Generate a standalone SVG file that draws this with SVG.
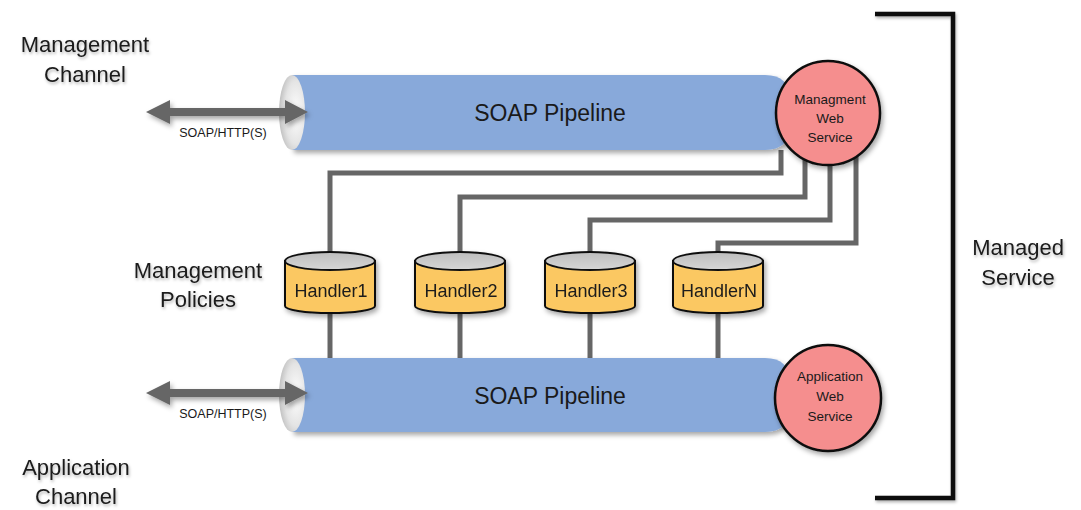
<svg xmlns="http://www.w3.org/2000/svg" width="1081" height="510" viewBox="0 0 1081 510">
<defs>
<filter id="sh" x="-20%" y="-20%" width="140%" height="150%">
<feDropShadow dx="2" dy="3" stdDeviation="2.5" flood-color="#000" flood-opacity="0.35"/>
</filter>
<filter id="tsh" x="-10%" y="-20%" width="120%" height="160%">
<feDropShadow dx="1" dy="2" stdDeviation="1.5" flood-color="#000" flood-opacity="0.3"/>
</filter>
<radialGradient id="endcap" cx="0.65" cy="0.5" r="0.7">
<stop offset="0" stop-color="#ffffff"/>
<stop offset="0.6" stop-color="#e4e4e4"/>
<stop offset="1" stop-color="#b8b8b8"/>
</radialGradient>
<linearGradient id="cylTop" x1="0" y1="0" x2="0" y2="1">
<stop offset="0" stop-color="#bdbdbd"/>
<stop offset="1" stop-color="#d6d6d6"/>
</linearGradient>
</defs>
<style>
text{font-family:"Liberation Sans",Arial,sans-serif;fill:#1a1a1a;}
.lbl{font-size:22px;text-anchor:middle;filter:url(#tsh);}
.pipe{fill:#88a9da;filter:url(#sh);}
.cap{fill:url(#endcap);}
.ptxt{font-size:23px;text-anchor:middle;}
.ws{fill:#f58e8e;stroke:#111;stroke-width:2.5;filter:url(#sh);}
.wtxt{font-size:13.5px;text-anchor:middle;}
.cyl{fill:#fbc862;stroke:#111;stroke-width:2;}
.cyltop{fill:url(#cylTop);stroke:#111;stroke-width:2;}
.htxt{font-size:18px;text-anchor:middle;}
.conn{fill:none;stroke:#666;stroke-width:5;}
.arrow{fill:#666;filter:url(#sh);}
.proto{font-size:12.5px;text-anchor:middle;}
.bracket{fill:none;stroke:#111;stroke-width:4.5;filter:url(#tsh);}
</style>

<g id="labels">
<text class="lbl" x="85" y="52">Management</text>
<text class="lbl" x="85" y="82">Channel</text>
<text class="lbl" x="198" y="278">Management</text>
<text class="lbl" x="198" y="307">Policies</text>
<text class="lbl" x="76" y="475">Application</text>
<text class="lbl" x="76" y="504">Channel</text>
<text class="lbl" x="1018" y="255">Managed</text>
<text class="lbl" x="1018" y="285">Service</text>
</g>

<g id="connectors">
<path class="conn" d="M330,252 V173 H781 V150"/>
<path class="conn" d="M460,252 V197 H805 V160"/>
<path class="conn" d="M590,252 V220 H830 V160"/>
<path class="conn" d="M718,252 V243 H856 V156"/>
<path class="conn" d="M330,313 V360"/>
<path class="conn" d="M460,313 V360"/>
<path class="conn" d="M590,313 V360"/>
<path class="conn" d="M718,313 V360"/>
</g>

<g id="bracket">
<path class="bracket" d="M875,14 H953 V498 H875"/>
</g>

<g id="mgmt-pipeline">
<path class="pipe" d="M292,75 H765 Q790,75 790,100 V125 Q790,150 765,150 H292 Z"/>
<ellipse class="cap" cx="292" cy="112.5" rx="13" ry="37.5"/>
<text class="ptxt" x="550" y="121">SOAP Pipeline</text>
</g>

<g id="mgmt-channel-arrow">
<path class="arrow" d="M146,112 L170,100 V108 H285 V100 L308,112 L285,124 V116 H170 V124 Z"/>
<text class="proto" x="223" y="137">SOAP/HTTP(S)</text>
</g>

<g id="mgmt-web-service">
<circle class="ws" cx="828" cy="113" r="52"/>
<text class="wtxt" x="830" y="104">Managment</text>
<text class="wtxt" x="830" y="123">Web</text>
<text class="wtxt" x="830" y="142">Service</text>
</g>

<g id="app-pipeline">
<path class="pipe" d="M292,358 H765 Q790,358 790,383 V407 Q790,432 765,432 H292 Z"/>
<ellipse class="cap" cx="292" cy="395" rx="13" ry="37"/>
<text class="ptxt" x="550" y="404">SOAP Pipeline</text>
</g>

<g id="app-channel-arrow">
<path class="arrow" d="M146,393 L170,381 V389 H285 V381 L308,393 L285,405 V397 H170 V405 Z"/>
<text class="proto" x="223" y="418">SOAP/HTTP(S)</text>
</g>

<g id="app-web-service">
<circle class="ws" cx="828" cy="398" r="53"/>
<text class="wtxt" x="830" y="381">Application</text>
<text class="wtxt" x="830" y="401">Web</text>
<text class="wtxt" x="830" y="421">Service</text>
</g>

<g id="handler1" filter="url(#sh)">
<path class="cyl" d="M285,261 V306 A45,7 0 0 0 375,306 V261 Z"/>
<ellipse class="cyltop" cx="330" cy="261" rx="45" ry="9"/>
<text class="htxt" x="331" y="297">Handler1</text>
</g>
<g id="handler2" filter="url(#sh)">
<path class="cyl" d="M415,261 V306 A45,7 0 0 0 505,306 V261 Z"/>
<ellipse class="cyltop" cx="460" cy="261" rx="45" ry="9"/>
<text class="htxt" x="461" y="297">Handler2</text>
</g>
<g id="handler3" filter="url(#sh)">
<path class="cyl" d="M545,261 V306 A45,7 0 0 0 635,306 V261 Z"/>
<ellipse class="cyltop" cx="590" cy="261" rx="45" ry="9"/>
<text class="htxt" x="591" y="297">Handler3</text>
</g>
<g id="handlerN" filter="url(#sh)">
<path class="cyl" d="M673,261 V306 A45,7 0 0 0 763,306 V261 Z"/>
<ellipse class="cyltop" cx="718" cy="261" rx="45" ry="9"/>
<text class="htxt" x="719" y="297">HandlerN</text>
</g>
</svg>
